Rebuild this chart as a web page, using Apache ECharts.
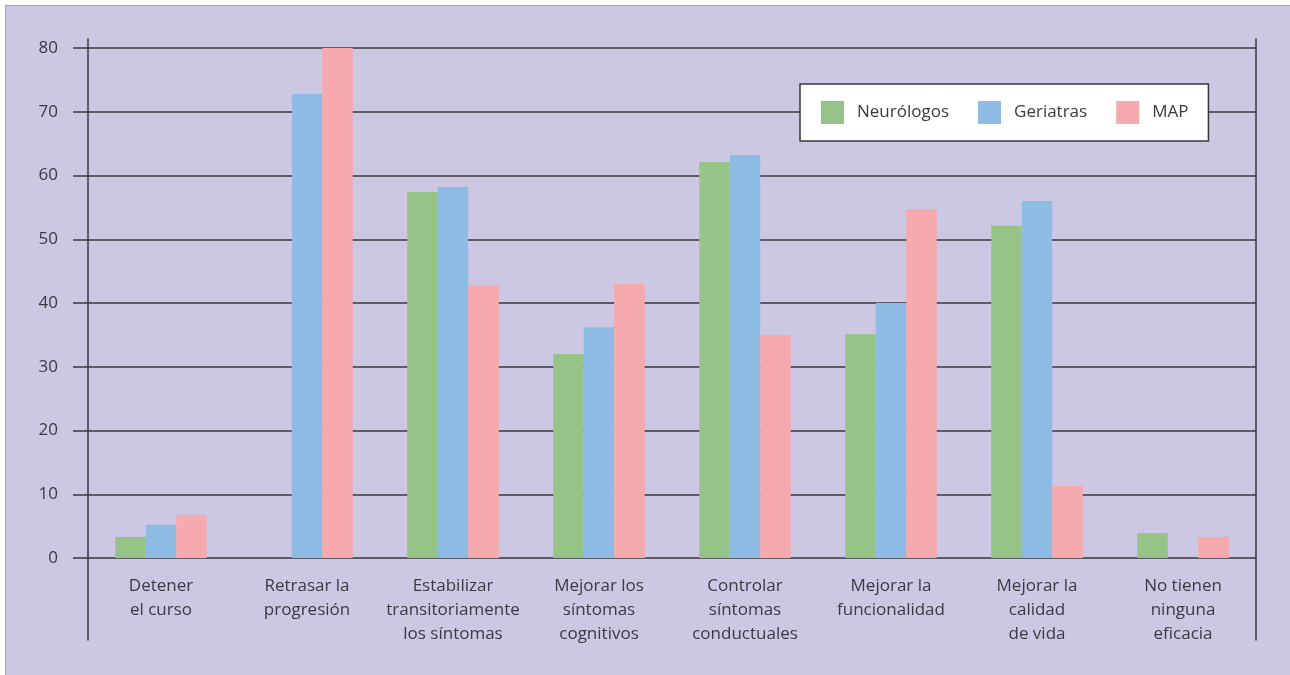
<!DOCTYPE html>
<html>
<head>
<meta charset="utf-8">
<script src="https://cdn.jsdelivr.net/npm/echarts@6/dist/echarts.min.js"></script>
<style>
  html, body { margin: 0; padding: 0; background: #ffffff; overflow: hidden; }
  #frame {
    position: absolute; left: 5px; top: 5px; width: 1300px; height: 700px;
    background: #CCC8E4; border-left: 1.5px solid #a3a3a8; border-top: 1.5px solid #a3a3a8;
  }
  #chart { position: absolute; left: 0; top: 0; width: 1290px; height: 675px; }
</style>
</head>
<body>
<div id="frame"></div>
<div id="chart"></div>
<script>
// Categories (x axis)
const categories = [
  'Detener\nel curso',
  'Retrasar la\nprogresión',
  'Estabilizar\ntransitoriamente\nlos síntomas',
  'Mejorar los\nsíntomas\ncognitivos',
  'Controlar\nsíntomas\nconductuales',
  'Mejorar la\nfuncionalidad',
  'Mejorar la\ncalidad\nde vida',
  'No tienen\nninguna\neficacia'
];

// Series values (%)
const neurologos = [3.3, 0, 57.4, 32.0, 62.1, 35.1, 52.1, 3.9];
const geriatras  = [5.2, 72.8, 58.2, 36.2, 63.2, 40.0, 56.0, 0];
const map        = [6.7, 80.0, 42.8, 43.0, 35.0, 54.7, 11.3, 3.3];

// Y axis ticks
const yTicks = [0, 10, 20, 30, 40, 50, 60, 70, 80];

const FONT = '"Open Sans", "Noto Sans", sans-serif';
const TEXT = '#3b3a42';
const LINE = '#38363d';

const chart = echarts.init(document.getElementById('chart'), null, { renderer: 'canvas' });

const bar = (name, data, color) => ({
  name, type: 'bar', data,
  xAxisIndex: 0, yAxisIndex: 0,
  barWidth: 30.5, barGap: '0%',
  itemStyle: { color },
  emphasis: { disabled: true },
  z: 3
});

chart.setOption({
  animation: false,
  backgroundColor: 'transparent',
  textStyle: { fontFamily: FONT },
  legend: {
    left: 800, top: 84,
    orient: 'horizontal',
    backgroundColor: '#ffffff',
    borderColor: LINE, borderWidth: 1.5,
    padding: [17, 20, 17, 21],
    itemWidth: 23, itemHeight: 23, itemGap: 29,
    icon: 'rect',
    textStyle: { fontFamily: FONT, fontSize: 17, color: TEXT, padding: [0, 0, 0, 8] },
    data: ['Neurólogos', 'Geriatras', 'MAP']
  },
  grid: [
    { left: 88, right: 34, top: 48, bottom: 117, containLabel: false },
    { left: 88, right: 34, top: 39, bottom: 35, containLabel: false }
  ],
  xAxis: [
    {
      type: 'category', gridIndex: 0, data: categories,
      axisLine: { show: false }, axisTick: { show: false },
      axisLabel: {
        interval: 0, margin: 16, fontFamily: FONT, fontSize: 17,
        lineHeight: 24, color: TEXT, align: 'center'
      }
    },
    { type: 'value', gridIndex: 1, show: false }
  ],
  yAxis: [
    {
      type: 'value', gridIndex: 0,
      min: yTicks[0], max: yTicks[yTicks.length - 1], interval: 10,
      axisLine: { show: false },
      axisTick: { show: true, length: 15, lineStyle: { color: LINE, width: 1.5 } },
      splitLine: { show: true, lineStyle: { color: LINE, width: 1.5 } },
      axisLabel: { margin: 30, fontFamily: FONT, fontSize: 17, color: TEXT }
    },
    {
      type: 'value', gridIndex: 1, position: 'left', min: 0, max: 1,
      axisLine: { show: true, lineStyle: { color: LINE, width: 1.5 } },
      axisTick: { show: false }, axisLabel: { show: false }, splitLine: { show: false }
    },
    {
      type: 'value', gridIndex: 1, position: 'right', min: 0, max: 1,
      axisLine: { show: true, lineStyle: { color: LINE, width: 1.5 } },
      axisTick: { show: false }, axisLabel: { show: false }, splitLine: { show: false }
    }
  ],
  series: [
    bar('Neurólogos', neurologos, '#96C387'),
    bar('Geriatras', geriatras, '#8DBBE4'),
    bar('MAP', map, '#F6AAAE')
  ]
});
</script>
</body>
</html>
